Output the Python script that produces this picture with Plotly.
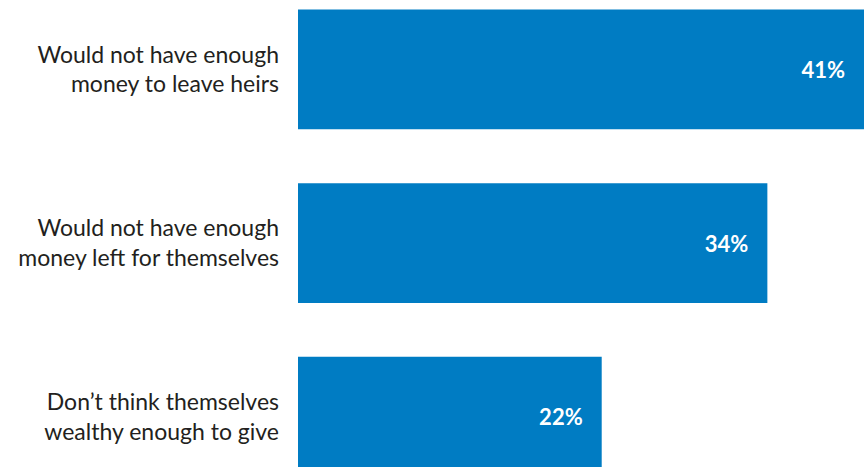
import plotly.graph_objects as go

categories = [
    "Would not have enough<br>money to leave heirs",
    "Would not have enough<br>money left for themselves",
    "Don\u2019t think themselves<br>wealthy enough to give",
]
values = [41, 34, 22]
labels = [f"{v}%\u00a0\u00a0\u00a0" for v in values]

fig = go.Figure(
    go.Bar(
        x=values,
        y=categories,
        orientation="h",
        marker=dict(color="#007CC3", line=dict(width=0)),
        text=labels,
        textposition="inside",
        insidetextanchor="end",
        textfont=dict(family="Lato", size=22, color="white", weight=700),
        cliponaxis=True,
    )
)

fig.update_layout(
    width=864,
    height=467,
    margin=dict(l=298, r=0, t=0, b=0),
    paper_bgcolor="white",
    plot_bgcolor="white",
    bargap=0.31,
    showlegend=False,
    font=dict(family="Lato", size=23, color="#231F20"),
)
fig.update_xaxes(range=[0, 41], visible=False, fixedrange=True)
fig.update_yaxes(
    type="category",
    range=[2.29, -0.40],
    showgrid=False,
    zeroline=False,
    showline=False,
    ticks="",
    ticklabelstandoff=18,
    tickfont=dict(family="Lato", size=23, color="#231F20"),
)

fig.write_html("out.html")
